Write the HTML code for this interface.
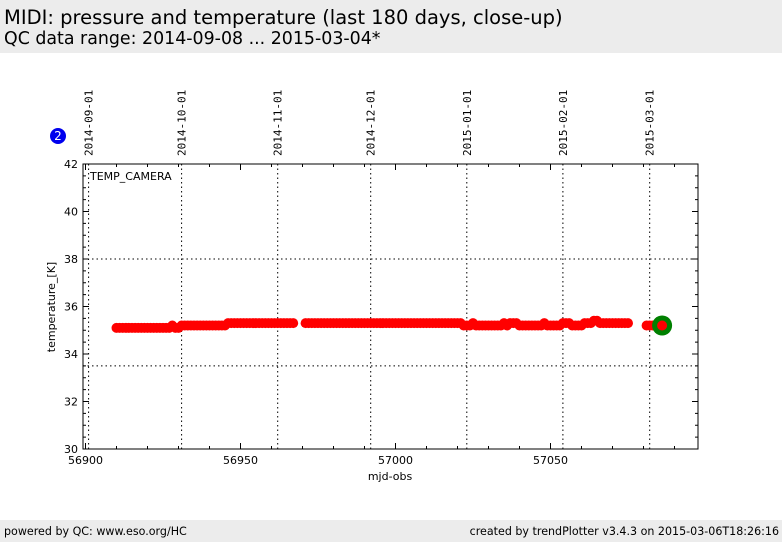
<!DOCTYPE html>
<html><head><meta charset="utf-8"><style>
body{margin:0;width:782px;height:542px;background:#fff;font-family:"DejaVu Sans","Liberation Sans",sans-serif;overflow:hidden;position:relative}
.hdr{position:absolute;left:0;top:0;width:782px;height:53px;background:#ececec}
.ftr{position:absolute;left:0;top:520px;width:782px;height:22px;background:#ececec;font-size:11.1px}
</style></head><body>
<div class="hdr">
<div style="position:absolute;left:4px;top:6px;font-size:19.5px">MIDI: pressure and temperature (last 180 days, close-up)</div>
<div style="position:absolute;left:4px;top:29px;font-size:17.4px">QC data range: 2014-09-08 ... 2015-03-04*</div>
</div>
<svg id="chart" width="782" height="542" style="position:absolute;left:0;top:0" font-family="DejaVu Sans, Liberation Sans, sans-serif"></svg>
<div class="ftr">
<span style="position:absolute;left:4px;top:5px">powered by QC: www.eso.org/HC</span>
<span style="position:absolute;right:3px;top:5px">created by trendPlotter v3.4.3 on 2015-03-06T18:26:16</span>
</div>
<script>
const mjd=[56910,56911,56912,56913,56914,56915,56916,56917,56918,56919,56920,56921,56922,56923,56924,56925,56926,56927,56928,56929,56930,56931,56932,56933,56934,56935,56936,56937,56938,56939,56940,56941,56942,56943,56944,56945,56946,56947,56948,56949,56950,56951,56952,56953,56954,56955,56956,56957,56958,56959,56960,56961,56962,56963,56964,56965,56966,56967,
56971,56972,56973,56974,56975,56976,56977,56978,56979,56980,56981,56982,56983,56984,56985,56986,56987,56988,56989,56990,56991,56992,56993,56994,56995,56996,56997,56998,56999,57000,57001,57002,57003,57004,57005,57006,57007,57008,57009,57010,57011,57012,57013,57014,57015,57016,57017,57018,57019,57020,57021,
57022,57023,57024,57025,57026,57027,57028,57029,57030,57031,57032,57033,57034,57035,57036,57037,57038,57039,57040,57041,57042,57043,57044,57045,57046,57047,57048,57049,57050,57051,57052,57053,57054,57055,57056,57057,57058,57059,57060,57061,57062,57063,57064,57065,57066,57067,57068,57069,57070,57071,57072,57073,57074,57075,
57081,57082,57083,57084];
const temp=[35.1,35.1,35.1,35.1,35.1,35.1,35.1,35.1,35.1,35.1,35.1,35.1,35.1,35.1,35.1,35.1,35.1,35.1,35.2,35.1,35.1,35.2,35.2,35.2,35.2,35.2,35.2,35.2,35.2,35.2,35.2,35.2,35.2,35.2,35.2,35.2,35.3,35.3,35.3,35.3,35.3,35.3,35.3,35.3,35.3,35.3,35.3,35.3,35.3,35.3,35.3,35.3,35.3,35.3,35.3,35.3,35.3,35.3,
35.3,35.3,35.3,35.3,35.3,35.3,35.3,35.3,35.3,35.3,35.3,35.3,35.3,35.3,35.3,35.3,35.3,35.3,35.3,35.3,35.3,35.3,35.3,35.3,35.3,35.3,35.3,35.3,35.3,35.3,35.3,35.3,35.3,35.3,35.3,35.3,35.3,35.3,35.3,35.3,35.3,35.3,35.3,35.3,35.3,35.3,35.3,35.3,35.3,35.3,35.3,
35.2,35.2,35.2,35.3,35.2,35.2,35.2,35.2,35.2,35.2,35.2,35.2,35.2,35.3,35.2,35.3,35.3,35.3,35.2,35.2,35.2,35.2,35.2,35.2,35.2,35.2,35.3,35.2,35.2,35.2,35.2,35.2,35.3,35.3,35.3,35.2,35.2,35.2,35.2,35.3,35.3,35.3,35.4,35.4,35.3,35.3,35.3,35.3,35.3,35.3,35.3,35.3,35.3,35.3,
35.2,35.2,35.2,35.2];
const lastMjd=[57086];
const lastTemp=[35.2];
const yTicks=[30,32,34,36,38,40,42];
const xTicks=[56900,56950,57000,57050];
const dateLabels=["2014-09-01","2014-10-01","2014-11-01","2014-12-01","2015-01-01","2015-02-01","2015-03-01"];
const dateMjd=[56901,56931,56962,56992,57023,57054,57082];
const hLines=[38,33.5];

const L=83,R=698,T=164,B=449;
const X=v=>85.5+(v-56900)*3.1;
const Y=v=>B-(v-30)*(B-T)/12;
const svg=document.getElementById('chart');
const NS='http://www.w3.org/2000/svg';
function mk(tag,attrs,parent){const e=document.createElementNS(NS,tag);for(const k in attrs)e.setAttribute(k,attrs[k]);(parent||svg).appendChild(e);return e;}

dateMjd.forEach((m,i)=>{
  const l=mk('line',{x1:X(m),x2:X(m),y1:T,y2:B,stroke:'#000','stroke-dasharray':'1.5,3','stroke-width':1});
  
  
  const t=mk('text',{x:0,y:0,'font-family':'DejaVu Sans Mono, Liberation Mono, monospace','font-size':11,transform:`translate(${X(m)+4},${T-8}) rotate(-90)`});
  t.textContent=dateLabels[i];
  
  
});
hLines.forEach(v=>{
  const l=mk('line',{x1:L,x2:R,y1:Y(v),y2:Y(v),stroke:'#000','stroke-dasharray':'1.5,3','stroke-width':1});
  
  
});
for(let v=30;v<=42;v+=0.5){
  const len=(v%2===0)?6:3;
  mk('line',{x1:L,x2:L+len,y1:Y(v),y2:Y(v),stroke:'#000'});
  mk('line',{x1:R,x2:R-len,y1:Y(v),y2:Y(v),stroke:'#000'});
}
for(let v=56900;v<=57090;v+=10){
  const len=(v%50===0)?6:3;
  mk('line',{x1:X(v),x2:X(v),y1:B,y2:B-len,stroke:'#000'});
  mk('line',{x1:X(v),x2:X(v),y1:T,y2:T+len,stroke:'#000'});
}
yTicks.forEach(v=>{
  const t=mk('text',{x:L-5,y:Y(v)+4,'font-size':11,'text-anchor':'end'});
  t.textContent=v;
  
  
});
xTicks.forEach(v=>{
  const t=mk('text',{x:X(v),y:B+15,'font-size':11,'text-anchor':'middle'});
  t.textContent=v;
  
  
});
const f=mk('rect',{x:L,y:T,width:R-L,height:B-T,fill:'none',stroke:'#000','stroke-width':1});


mjd.forEach((m,i)=>{
  const c=mk('circle',{cx:X(m),cy:Y(temp[i]),r:5,fill:'#ff0000'});
  
  
});
lastMjd.forEach((m,i)=>{
  const g=mk('circle',{cx:X(m),cy:Y(lastTemp[i]),r:10,fill:'#008000'});
  
  
  const c=mk('circle',{cx:X(m),cy:Y(lastTemp[i]),r:5,fill:'#ff0000'});
  
  
});
let t=mk('text',{x:90,y:180,'font-size':11});t.textContent='TEMP_CAMERA';


t=mk('text',{x:390,y:480,'font-size':11,'text-anchor':'middle'});t.textContent='mjd-obs';


t=mk('text',{x:0,y:0,'font-size':11,'text-anchor':'middle',transform:'translate(55,307) rotate(-90)'});t.textContent='temperature_[K]';


const b=mk('circle',{cx:58,cy:136,r:8,fill:'#0000ee'});


t=mk('text',{x:58,y:140,'font-size':12,fill:'#fff','text-anchor':'middle'});t.textContent='2';


</script>
</body></html>
